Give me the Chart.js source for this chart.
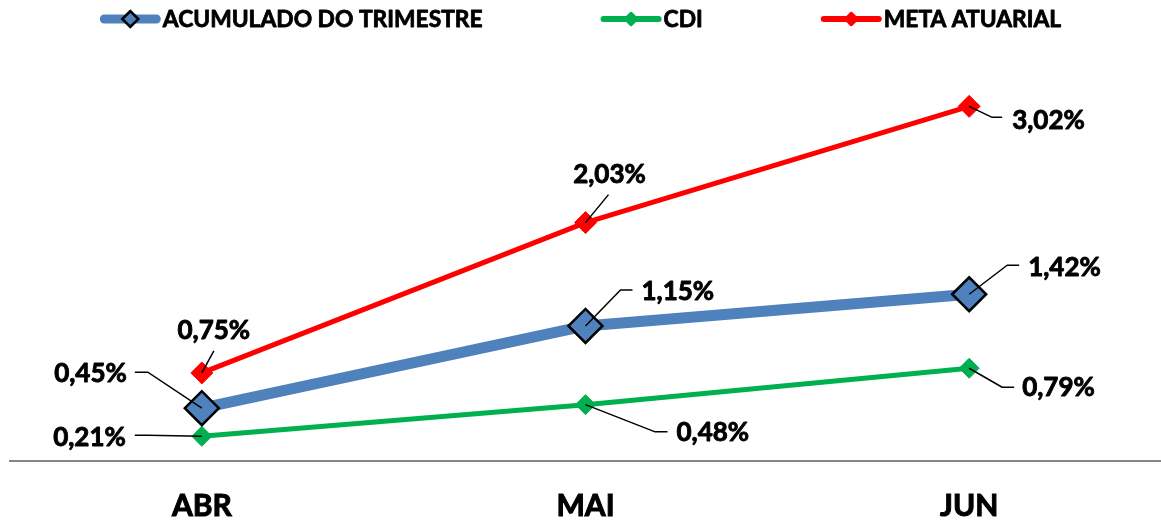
<!DOCTYPE html>
<html><head><meta charset="utf-8">
<script src="https://cdn.jsdelivr.net/npm/chart.js@4.4.1/dist/chart.umd.min.js"></script>
<style>html,body{margin:0;padding:0;background:#fff;overflow:hidden}#wrap{width:1161px;height:522px;position:relative}</style>
</head><body><div id="wrap"><canvas id="c"></canvas></div>
<script>
// ---- data ----
const categories = ['ABR', 'MAI', 'JUN'];
const seriesNames = ['ACUMULADO DO TRIMESTRE', 'CDI', 'META ATUARIAL'];
const acumulado = [0.45, 1.15, 1.42];
const cdi = [0.21, 0.48, 0.79];
const meta = [0.75, 2.03, 3.02];
const yMin = 0, yMax = 3.5;

// ---- styles ----
const FONT = 'Lato, "Open Sans", "DejaVu Sans", sans-serif';
const COLORS = ['#4F81BD', '#00B050', '#FF0000'];

// label placement relative to each point (pixels): text anchor + leader polyline
const labelLayout = [
  [
    {tx: -75, ty: -35, align: 'right', lead: [[-54, -36], [-67, -36]]},
    {tx: 56, ty: -34, align: 'left', lead: [[35, -36], [47, -36]]},
    {tx: 59, ty: -27, align: 'left', lead: [[38, -29], [50, -29]]}
  ],
  [
    {tx: -76, ty: 1, align: 'right', lead: [[-54, -1], [-67, -1]]},
    {tx: 91, ty: 28, align: 'left', lead: [[69, 27], [82, 27]]},
    {tx: 53, ty: 19, align: 'left', lead: [[33, 19], [45, 19]]}
  ],
  [
    {tx: 12, ty: -42, align: 'center', lead: [[12, -22]]},
    {tx: 24, ty: -48, align: 'center', lead: [[23, -28]]},
    {tx: 43, ty: 14, align: 'left', lead: [[23, 11], [33, 11]]}
  ]
];

const fmt = v => v.toFixed(2).replace('.', ',') + '%';

function boldText(ctx, text, x, y, sw) {
  ctx.lineWidth = sw;
  ctx.strokeStyle = '#000';
  ctx.lineJoin = 'round';
  ctx.strokeText(text, x, y);
  ctx.fillText(text, x, y);
}

const labelPlugin = {
  id: 'leaderLabels',
  afterDatasetsDraw(chart) {
    const ctx = chart.ctx;
    ctx.save();
    chart.data.datasets.forEach((ds, di) => {
      const meta = chart.getDatasetMeta(di);
      meta.data.forEach((pt, i) => {
        const L = labelLayout[di][i];
        const x = pt.x, y = pt.y;
        ctx.beginPath();
        ctx.strokeStyle = '#000';
        ctx.lineWidth = 1.5;
        ctx.moveTo(x, y);
        L.lead.forEach(p => ctx.lineTo(x + p[0], y + p[1]));
        ctx.stroke();
        ctx.font = 'bold 26px ' + FONT;
        ctx.fillStyle = '#000';
        ctx.textAlign = L.align;
        ctx.textBaseline = 'middle';
        boldText(ctx, fmt(ds.data[i]), x + L.tx, y + L.ty, 0.9);
      });
    });
    ctx.restore();
  }
};

const legendPlugin = {
  id: 'excelLegend',
  afterDraw(chart) {
    const ctx = chart.ctx;
    ctx.save();
    ctx.font = 'bold 22.8px ' + FONT;
    const items = chart.data.datasets.map((ds, i) => ({
      text: ds.label,
      color: COLORS[i],
      lw: i === 0 ? 9 : 6,
      r: i === 0 ? 8 : 6,
      fill: COLORS[i],
      stroke: i === 0 ? '#000' : COLORS[i],
      w: ctx.measureText(ds.label).width
    }));
    const lineLen = 61, gap = 2, itemGap = 118;
    const total = items.reduce((s, it) => s + lineLen + gap + it.w, 0) + itemGap * (items.length - 1);
    let x = (chart.width - total) / 2;
    const yc = 19;
    items.forEach(it => {
      ctx.beginPath();
      ctx.strokeStyle = it.color;
      ctx.lineWidth = it.lw;
      ctx.lineCap = 'round';
      ctx.moveTo(x + it.lw / 2, yc);
      ctx.lineTo(x + lineLen - it.lw / 2, yc);
      ctx.stroke();
      const cx = x + lineLen / 2;
      ctx.beginPath();
      ctx.moveTo(cx - it.r, yc);
      ctx.lineTo(cx, yc - it.r);
      ctx.lineTo(cx + it.r, yc);
      ctx.lineTo(cx, yc + it.r);
      ctx.closePath();
      ctx.fillStyle = it.fill;
      ctx.fill();
      ctx.lineWidth = 2.5;
      ctx.lineCap = 'butt';
      ctx.strokeStyle = it.stroke;
      ctx.stroke();
      ctx.fillStyle = '#000';
      ctx.textAlign = 'left';
      ctx.textBaseline = 'middle';
      boldText(ctx, it.text, x + lineLen + gap, yc + 1, 0.8);
      x += lineLen + gap + it.w + itemGap;
    });
    ctx.restore();
  }
};

const mk = (i, data, width, radius, borderCol, borderW) => ({
  label: seriesNames[i],
  data: data,
  borderColor: COLORS[i],
  backgroundColor: COLORS[i],
  borderWidth: width,
  borderCapStyle: 'round',
  borderJoinStyle: 'round',
  tension: 0,
  fill: false,
  pointStyle: 'rectRot',
  pointRadius: radius,
  pointHoverRadius: radius,
  pointBackgroundColor: COLORS[i],
  pointBorderColor: borderCol,
  pointBorderWidth: borderW
});

new Chart(document.getElementById('c'), {
  type: 'line',
  data: {
    labels: categories,
    datasets: [
      mk(0, acumulado, 11, 17, '#000000', 2.5),
      mk(1, cdi, 5, 10, COLORS[1], 1),
      mk(2, meta, 5, 11, COLORS[2], 1)
    ]
  },
  options: {
    responsive: true,
    maintainAspectRatio: false,
    animation: false,
    layout: {autoPadding: false, padding: {left: 10, right: 0, top: 50, bottom: 0}},
    plugins: {legend: {display: false}, tooltip: {enabled: false}},
    scales: {
      x: {
        type: 'category',
        offset: true,
        grid: {display: false, drawTicks: false},
        border: {display: true, color: '#868686', width: 2},
        ticks: {color: '#000', font: {family: FONT, size: 30, weight: 'bold'}, padding: 27,
                textStrokeColor: '#000', textStrokeWidth: 1, maxRotation: 0},
        afterFit(scale) { scale.height = 61; scale.paddingLeft = 0; scale.paddingRight = 0; }
      },
      y: {display: false, min: yMin, max: yMax}
    }
  },
  plugins: [labelPlugin, legendPlugin]
});
</script>
</body></html>
